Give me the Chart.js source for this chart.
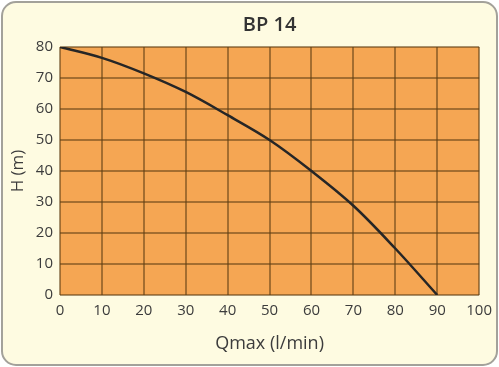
<!DOCTYPE html>
<html>
<head>
<meta charset="utf-8">
<script src="https://cdn.jsdelivr.net/npm/chart.js@4"></script>
<style>
  html, body { margin: 0; padding: 0; background: #fff; }
  #wrap { width: 499px; height: 367px; }
</style>
</head>
<body>
<div id="wrap"><canvas id="pumpChart" width="499" height="367"></canvas></div>
<script>
// values
const flowValues = [0, 10, 20, 30, 40, 50, 60, 70, 80, 90];
const headValues = [80, 76.5, 71.5, 65.5, 58, 50, 40, 28.8, 15, 0];
const xTicks = [0, 10, 20, 30, 40, 50, 60, 70, 80, 90, 100];
const yTicks = [0, 10, 20, 30, 40, 50, 60, 70, 80];

const fontFamily = "'Open Sans', 'DejaVu Sans', sans-serif";

// cream card with rounded grey border + orange plot area
const background = {
    id: "background",
    beforeDraw(chart) {
        const ctx = chart.ctx;
        const area = chart.chartArea;
        ctx.save();
        ctx.fillStyle = "#ffffff";
        ctx.fillRect(0, 0, chart.width, chart.height);
        ctx.beginPath();
        ctx.roundRect(2, 2, chart.width - 4, chart.height - 4, 14);
        ctx.fillStyle = "#fefbe1";
        ctx.fill();
        ctx.lineWidth = 2;
        ctx.strokeStyle = "#a3a19a";
        ctx.stroke();
        ctx.fillStyle = "#f5a653";
        ctx.fillRect(area.left, area.top, area.right - area.left, area.bottom - area.top);
        ctx.restore();
    }
};

const points = flowValues.map((q, i) => ({ x: q, y: headValues[i] }));

new Chart(document.getElementById("pumpChart"), {
    type: "line",
    data: {
        datasets: [{
            data: points,
            borderColor: "#262626",
            borderWidth: 2.5,
            pointRadius: 0,
            tension: 0.35,
            fill: false
        }]
    },
    options: {
        responsive: false,
        animation: false,
        layout: { padding: { left: 4, right: 19, top: 6, bottom: 4 } },
        plugins: {
            legend: { display: false },
            tooltip: { enabled: false },
            title: {
                display: true,
                text: "BP 14",
                fullSize: false,
                color: "#333333",
                font: { family: fontFamily, size: 20, weight: "600" },
                padding: { top: 7, bottom: 10 }
            }
        },
        scales: {
            x: {
                type: "linear",
                min: 0,
                max: 100,
                afterBuildTicks: s => { s.ticks = xTicks.map(v => ({ value: v })); },
                afterFit: s => { s.height = 68; },
                ticks: {
                    color: "#3c3c3c",
                    padding: 7,
                    font: { family: fontFamily, size: 15 }
                },
                grid: { color: "rgba(95,62,20,0.55)", lineWidth: 2, drawTicks: false },
                border: { display: false },
                title: {
                    display: true,
                    text: "Qmax (l/min)",
                    color: "#3c3c3c",
                    font: { family: fontFamily, size: 18 },
                    padding: { top: 0, bottom: 8 }
                }
            },
            y: {
                min: 0,
                max: 80,
                afterBuildTicks: s => { s.ticks = yTicks.map(v => ({ value: v })); },
                afterFit: s => { s.width = 56; },
                ticks: {
                    color: "#3c3c3c",
                    padding: 7,
                    font: { family: fontFamily, size: 15 }
                },
                grid: { color: "rgba(95,62,20,0.55)", lineWidth: 2, drawTicks: false },
                border: { display: false },
                title: {
                    display: true,
                    text: "H (m)",
                    color: "#3c3c3c",
                    font: { family: fontFamily, size: 17 },
                    padding: { top: 4, bottom: 0 }
                }
            }
        }
    },
    plugins: [background]
});
</script>
</body>
</html>
